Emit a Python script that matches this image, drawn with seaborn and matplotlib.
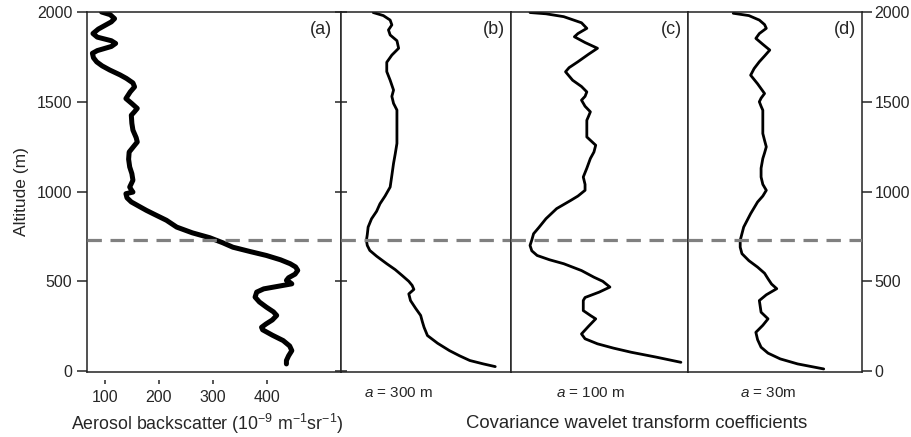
import numpy as np
import pandas as pd
import matplotlib
matplotlib.use("Agg")
import matplotlib.pyplot as plt
import seaborn as sns

# ---- Profiles -------------------------------------------------------------
# (a) aerosol backscatter profile, 1e-9 m^-1 sr^-1
alt_a = [2000, 1985, 1963, 1945, 1905, 1880, 1860, 1840, 1825, 1808, 1785,
         1770, 1745, 1722, 1700, 1677, 1650, 1630, 1605, 1583, 1555, 1518,
         1490, 1463, 1445, 1425, 1380, 1342, 1300, 1276, 1250, 1220, 1180,
         1137, 1100, 1063, 1025, 1005, 997, 988, 965, 942, 915, 895, 877,
         840, 802, 770, 743, 715, 690, 665, 644, 620, 598, 580, 561, 540,
         520, 505, 495, 486, 472, 458, 440, 412, 385, 356, 330, 310, 285,
         262, 244, 230, 200, 170, 140, 114, 85, 59, 40]
back_a = [94, 110, 118, 112, 88, 78, 86, 112, 120, 112, 86,
          77, 79, 85, 95, 109, 128, 140, 152, 155, 147, 139,
          150, 160, 155, 149, 150, 152, 158, 160, 153, 145, 144,
          146, 150, 152, 146, 150, 152, 139, 141, 149, 165, 177, 189,
          214, 233, 262, 294, 318, 337, 370, 399, 425, 443, 453, 457, 452,
          440, 436, 442, 446, 420, 394, 381, 378, 386, 399, 412, 418, 410,
          398, 390, 392, 410, 430, 442, 446, 440, 436, 436]

# (b) covariance wavelet transform, dilation a = 300 m (arbitrary units)
alt_b = [1997, 1980, 1955, 1928, 1900, 1872, 1840, 1798, 1760, 1720, 1668,
         1620, 1565, 1530, 1491, 1454, 1360, 1268, 1210, 1157, 1090, 1025,
         975, 932, 890, 848, 802, 760, 728, 700, 672, 640, 598, 565, 533,
         500, 477, 455, 430, 393, 350, 310, 275, 244, 198, 155, 114, 85,
         59, 40, 25]
cwt_b = [0.19, 0.25, 0.29, 0.30, 0.28, 0.29, 0.33, 0.34, 0.30, 0.27, 0.27,
         0.29, 0.31, 0.30, 0.31, 0.33, 0.33, 0.33, 0.32, 0.31, 0.30, 0.29,
         0.26, 0.23, 0.21, 0.18, 0.16, 0.155, 0.15, 0.155, 0.17, 0.21, 0.27,
         0.32, 0.36, 0.40, 0.42, 0.43, 0.40, 0.41, 0.44, 0.47, 0.48, 0.49,
         0.51, 0.57, 0.64, 0.70, 0.76, 0.84, 0.91]

# (c) dilation a = 100 m
alt_c = [1997, 1990, 1974, 1940, 1909, 1880, 1862, 1830, 1798, 1765, 1723,
         1690, 1667, 1620, 1585, 1555, 1530, 1509, 1475, 1444, 1420, 1397,
         1350, 1304, 1258, 1220, 1184, 1130, 1081, 1040, 1007, 975, 951,
         905, 849, 800, 765, 730, 700, 670, 644, 620, 598, 560, 523, 500,
         468, 440, 410, 393, 337, 310, 291, 250, 207, 180, 152, 128, 105,
         78, 49]
cwt_c = [0.11, 0.20, 0.30, 0.40, 0.43, 0.38, 0.36, 0.42, 0.49, 0.44, 0.38,
         0.33, 0.31, 0.35, 0.40, 0.43, 0.42, 0.40, 0.42, 0.45, 0.44, 0.43,
         0.43, 0.43, 0.48, 0.47, 0.45, 0.43, 0.41, 0.42, 0.42, 0.38, 0.34,
         0.26, 0.20, 0.16, 0.13, 0.12, 0.11, 0.12, 0.15, 0.22, 0.30, 0.40,
         0.47, 0.52, 0.56, 0.50, 0.42, 0.41, 0.41, 0.45, 0.48, 0.44, 0.40,
         0.42, 0.49, 0.58, 0.68, 0.82, 0.96]

# (d) dilation a = 30 m
alt_d = [1993, 1980, 1955, 1930, 1909, 1880, 1853, 1820, 1788, 1755, 1723,
         1685, 1648, 1600, 1546, 1520, 1500, 1475, 1453, 1390, 1323, 1285,
         1249, 1215, 1184, 1130, 1081, 1040, 1007, 975, 942, 877, 802, 765,
         728, 690, 654, 615, 579, 545, 514, 485, 459, 425, 393, 328, 291,
         255, 216, 175, 133, 100, 68, 40, 12]
cwt_d = [0.26, 0.35, 0.41, 0.44, 0.45, 0.41, 0.39, 0.43, 0.47, 0.44, 0.41,
         0.38, 0.36, 0.40, 0.44, 0.42, 0.41, 0.42, 0.43, 0.43, 0.43, 0.44,
         0.45, 0.44, 0.43, 0.42, 0.42, 0.43, 0.45, 0.43, 0.40, 0.36, 0.32,
         0.31, 0.30, 0.30, 0.31, 0.35, 0.40, 0.44, 0.46, 0.48, 0.51, 0.45,
         0.41, 0.42, 0.46, 0.43, 0.39, 0.40, 0.42, 0.46, 0.53, 0.63, 0.78]

boundary_layer_top = 730
panel_tags = ["(a)", "(b)", "(c)", "(d)"]
dilation_labels = [r"$a$ = 300 m", r"$a$ = 100 m", r"$a$ = 30m"]
alt_ticks = [0, 500, 1000, 1500, 2000]
back_ticks = [100, 200, 300, 400]

# ---- Style ----------------------------------------------------------------
sns.set_style("ticks")
plt.rcParams["font.family"] = ["Liberation Sans", "DejaVu Sans"]
plt.rcParams["mathtext.fontset"] = "custom"
plt.rcParams["mathtext.rm"] = "Liberation Sans"
plt.rcParams["mathtext.it"] = "Liberation Sans:italic"
plt.rcParams["axes.edgecolor"] = "#222222"
plt.rcParams["axes.linewidth"] = 1.1
plt.rcParams["lines.solid_joinstyle"] = "round"
plt.rcParams["lines.solid_capstyle"] = "round"

W, H = 911, 437
fig = plt.figure(figsize=(W / 100, H / 100), dpi=100)

def fax(x0, x1, y_top=12, y_bot=372):
    return fig.add_axes([x0 / W, (H - y_bot) / H, (x1 - x0) / W, (y_bot - y_top) / H])

ax_a = fax(87, 341)
ax_b = fax(341, 510.5)
ax_c = fax(510.5, 688)
ax_d = fax(688, 862)
axes = [ax_a, ax_b, ax_c, ax_d]

profiles = [
    (back_a, alt_a, 3.6, (67, 537)),
    (cwt_b, alt_b, 2.0, (0, 1)),
    (cwt_c, alt_c, 2.0, (0, 1)),
    (cwt_d, alt_d, 2.0, (0, 1)),
]

for ax, (xv, yv, lw, xl), tag in zip(axes, profiles, panel_tags):
    df = pd.DataFrame({"x": xv, "alt": yv})
    sns.lineplot(data=df, x="x", y="alt", sort=False, orient="y",
                 estimator=None, color="black", lw=lw, ax=ax)
    ax.axhline(boundary_layer_top, color="#808080", lw=2.3,
               dashes=(4.5, 2.7), zorder=3)
    ax.set_xlim(*xl)
    ax.set_ylim(-5, 2000)
    ax.set_xlabel("")
    ax.set_ylabel("")
    ax.text(0.965, 0.975, tag, transform=ax.transAxes, ha="right", va="top",
            fontsize=13)
    for s in ax.spines.values():
        s.set_visible(True)
    ax.tick_params(bottom=False, labelbottom=False, left=False,
                   labelleft=False, right=False, labelright=False)

# Panel (a): altitude axis on the left, backscatter ticks set just below the frame
ax_a.set_yticks(alt_ticks)
ax_a.tick_params(axis="y", left=True, labelleft=True, direction="out",
                 length=7, width=1.1, pad=3.5, labelsize=11.5)
ax_a.set_ylabel("Altitude (m)", fontsize=12.5, labelpad=6)
ax_a.set_xticks([])
sec = ax_a.secondary_xaxis(-8 / 360)
sec.set_xticks(back_ticks)
sec.spines["bottom"].set_visible(False)
sec.tick_params(axis="x", direction="out", length=3, width=1.1, pad=4,
                labelsize=11.5)

# Shared tick marks on the (a)/(b) border
ax_b.set_yticks(alt_ticks)
ax_b.tick_params(axis="y", left=True, labelleft=False, direction="inout",
                 length=8, width=1.1)

# Right-hand altitude axis on panel (d)
ax_d.set_yticks(alt_ticks)
ax_d.tick_params(axis="y", right=True, labelright=True, direction="out",
                 length=7, width=1.1, pad=2, labelsize=11.5)

for ax in axes[1:]:
    ax.set_xticks([])

for ax, lab, xpos in zip(axes[1:], dilation_labels, [0.34, 0.45, 0.46]):
    ax.text(xpos, -0.058, lab, transform=ax.transAxes, ha="center",
            va="center", fontsize=11)

fig.text(207 / W, 1 - 424 / H,
         r"Aerosol backscatter (10$^{\mathregular{-9}}$ m$^{\mathregular{-1}}$sr$^{\mathregular{-1}}$)",
         ha="center", va="center", fontsize=12.8)
fig.text(637 / W, 1 - 424 / H, "Covariance wavelet transform coefficients",
         ha="center", va="center", fontsize=13.3)

fig.savefig("out.png", dpi=100)
